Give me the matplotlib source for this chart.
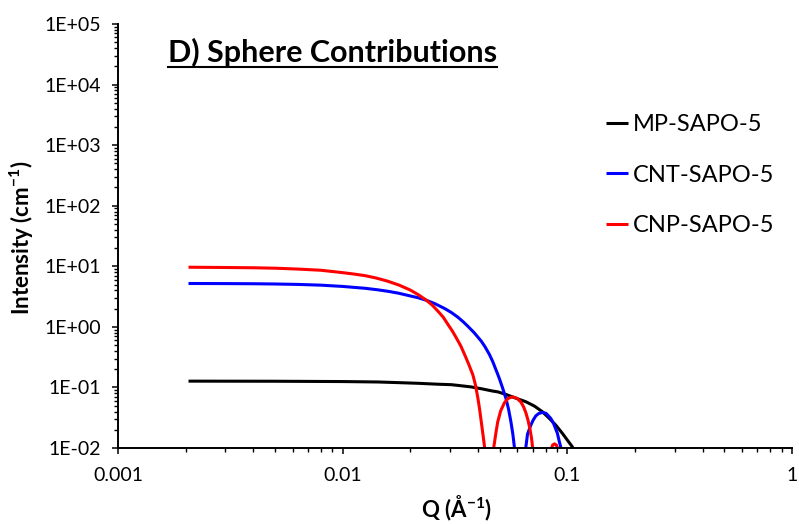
import matplotlib
matplotlib.use("Agg")
import matplotlib.pyplot as plt
from matplotlib.lines import Line2D
from matplotlib.ticker import FixedLocator, FixedFormatter, LogLocator, NullFormatter

plt.rcParams['font.family'] = ['Lato', 'DejaVu Sans']
plt.rcParams['mathtext.fontset'] = 'custom'
plt.rcParams['mathtext.rm'] = 'Lato'
plt.rcParams['mathtext.bf'] = 'Lato:bold'

# values (Q in 1/A, intensity in 1/cm)
mp_q = [0.00206, 0.005, 0.01, 0.0144, 0.0177, 0.0217, 0.0265, 0.0305, 0.0326,
        0.0373, 0.0415, 0.0466, 0.049, 0.0533, 0.058, 0.0654, 0.0715, 0.0775,
        0.083, 0.0888, 0.095, 0.1, 0.1052, 0.109]
mp_i = [0.127, 0.1265, 0.125, 0.123, 0.120, 0.117, 0.113, 0.111, 0.108,
        0.102, 0.095, 0.087, 0.0846, 0.0766, 0.068, 0.058, 0.049, 0.0396,
        0.031, 0.0239, 0.0175, 0.0135, 0.0105, 0.008]

cnt_q = [0.00206, 0.003, 0.004, 0.005, 0.0063, 0.008, 0.01, 0.0126, 0.0144,
         0.016, 0.0177, 0.0197, 0.0217, 0.0236, 0.0257, 0.0285, 0.0305, 0.0326,
         0.0345, 0.0361, 0.0385, 0.0414, 0.043, 0.045, 0.0466, 0.048, 0.049,
         0.0499, 0.0515, 0.0533, 0.0548, 0.0561, 0.0572, 0.0581, 0.0588,
         0.0645, 0.0654, 0.0665, 0.0688, 0.0705, 0.0724, 0.0745, 0.0775,
         0.0805, 0.0844, 0.087, 0.0903, 0.092, 0.0934, 0.094]
cnt_i = [5.2, 5.18, 5.15, 5.1, 5.02, 4.88, 4.65, 4.33, 4.08,
         3.85, 3.6, 3.28, 3.02, 2.74, 2.42, 2.0, 1.72, 1.44,
         1.2, 1.02, 0.8, 0.58, 0.47, 0.35, 0.265, 0.2, 0.165,
         0.138, 0.098, 0.0658, 0.043, 0.027, 0.017, 0.0105, 0.0001,
         0.0001, 0.0105, 0.017, 0.0239, 0.029, 0.0339, 0.037, 0.0387,
         0.0372, 0.0308, 0.025, 0.0175, 0.013, 0.0105, 0.0001]

cnp_q = [0.00206, 0.003, 0.004, 0.005, 0.0063, 0.008, 0.01, 0.0112, 0.0126,
         0.0141, 0.0158, 0.0178, 0.02, 0.0217, 0.0235, 0.025, 0.0266, 0.028,
         0.0294, 0.0308, 0.0321, 0.0335, 0.035, 0.0365, 0.038, 0.039, 0.04,
         0.0407, 0.0414, 0.0421, 0.0428, 0.0434,
         0.0464, 0.0471, 0.048, 0.049, 0.0505, 0.0525, 0.0545, 0.0571, 0.0598,
         0.0622, 0.064, 0.0654, 0.0668, 0.0681, 0.0692, 0.07, 0.0707,
         0.0838, 0.085, 0.086, 0.0877, 0.0894, 0.0905, 0.0916]
cnp_i = [9.65, 9.55, 9.45, 9.3, 9.0, 8.6, 7.85, 7.45, 7.0,
         6.4, 5.7, 4.9, 4.05, 3.4, 2.78, 2.3, 1.8, 1.45,
         1.1, 0.85, 0.65, 0.49, 0.34, 0.235, 0.16, 0.11, 0.066,
         0.0435, 0.027, 0.0169, 0.0105, 0.0001,
         0.0001, 0.0105, 0.017, 0.027, 0.041, 0.056, 0.066, 0.070, 0.066,
         0.057, 0.047, 0.038, 0.029, 0.021, 0.015, 0.0105, 0.0001,
         0.0001, 0.0098, 0.0112, 0.0117, 0.0112, 0.0098, 0.0001]

series_names = ['MP-SAPO-5', 'CNT-SAPO-5', 'CNP-SAPO-5']
series_colors = ['#000000', '#0000FF', '#FF0000']

x_ticks = [0.001, 0.01, 0.1, 1]
x_labels = ['0.001', '0.01', '0.1', '1']
y_ticks = [1e-2, 1e-1, 1e0, 1e1, 1e2, 1e3, 1e4, 1e5]
y_labels = ['1E-02', '1E-01', '1E+00', '1E+01', '1E+02', '1E+03', '1E+04', '1E+05']

fig = plt.figure(figsize=(7.99, 5.24), dpi=100)
ax = fig.add_axes([118 / 799, 1 - 448 / 524, 674 / 799, 424 / 524])

for q, i, name, color in zip([mp_q, cnt_q, cnp_q], [mp_i, cnt_i, cnp_i],
                             series_names, series_colors):
    ax.plot(q, i, color=color, linewidth=2.2, label=name, solid_capstyle='butt')

ax.set_xscale('log')
ax.set_yscale('log')
ax.set_xlim(0.001, 1)
ax.set_ylim(1e-2, 1e5)

ax.xaxis.set_major_locator(FixedLocator(x_ticks))
ax.xaxis.set_major_formatter(FixedFormatter(x_labels))
ax.yaxis.set_major_locator(FixedLocator(y_ticks))
ax.yaxis.set_major_formatter(FixedFormatter(y_labels))
ax.xaxis.set_minor_locator(LogLocator(base=10, subs=range(2, 10), numticks=20))
ax.yaxis.set_minor_locator(LogLocator(base=10, subs=range(2, 10), numticks=20))
ax.xaxis.set_minor_formatter(NullFormatter())
ax.yaxis.set_minor_formatter(NullFormatter())

for side in ['top', 'right']:
    ax.spines[side].set_visible(False)
for side in ['left', 'bottom']:
    ax.spines[side].set_linewidth(1.4)

ax.tick_params(which='major', direction='out', length=4.5, width=1.1, labelsize=14)
ax.tick_params(which='minor', direction='out', length=3, width=1.0)
ax.tick_params(axis='y', which='major', pad=8)
ax.tick_params(axis='x', which='major', pad=9)

fig.text(22 / 799, 1 - 238 / 524, r'Intensity (cm$^{\mathbf{-1}}$)', rotation=90,
         ha='center', va='center', fontsize=16, fontweight='bold')
fig.text(457 / 799, 1 - 508 / 524, r'Q (Å$^{\mathbf{-1}}$)',
         ha='center', va='center', fontsize=16, fontweight='bold')

title = fig.text(168 / 799, 1 - 62 / 524, 'D) Sphere Contributions',
                 ha='left', va='baseline', fontsize=22, fontweight='bold')
fig.canvas.draw()
bb = title.get_window_extent()
W, H = fig.bbox.width, fig.bbox.height
fig.add_artist(Line2D([bb.x0 / W, bb.x1 / W], [1 - 66.7 / 524] * 2,
                      transform=fig.transFigure, color='black', linewidth=1.5))

ax.legend(loc='upper left', bbox_to_anchor=(606 / 799, 1 - 114 / 524),
          bbox_transform=fig.transFigure, frameon=False, fontsize=17,
          handlelength=0.95, handletextpad=0.2, labelspacing=1.25,
          borderpad=0, borderaxespad=0)

fig.savefig('out.png', dpi=100)
